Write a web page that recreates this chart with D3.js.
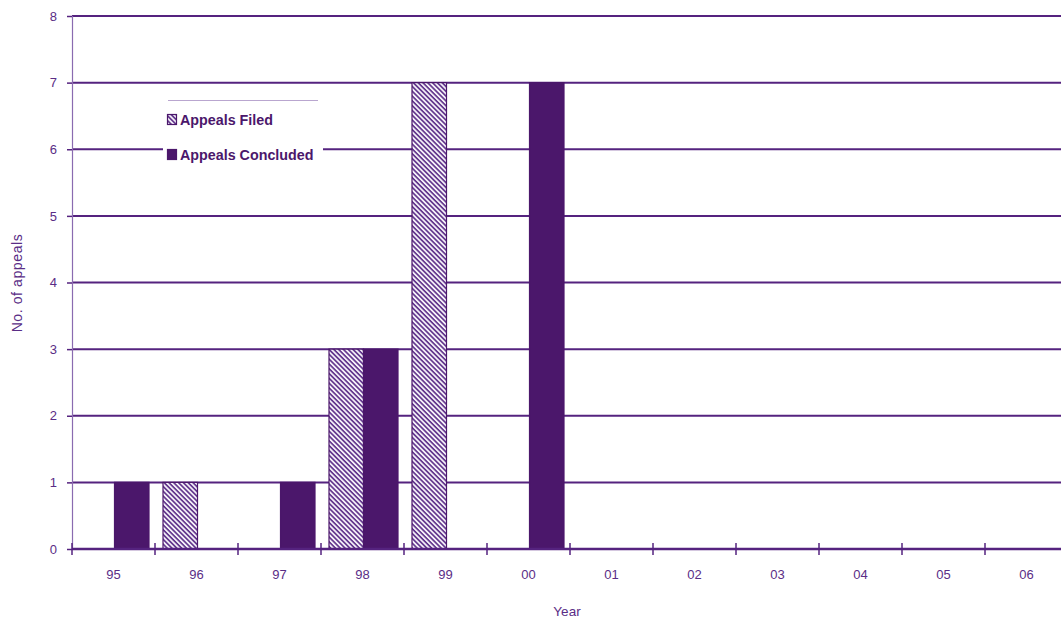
<!DOCTYPE html>
<html><head><meta charset="utf-8">
<script src="https://cdn.jsdelivr.net/npm/d3@7"></script>
<style>body{margin:0;background:#fff}svg{display:block;font-family:"Liberation Sans",Arial,sans-serif}</style>
</head><body><svg id="c" width="1061" height="621"></svg>
<script>
const years = ["95","96","97","98","99","00","01","02","03","04","05","06"];
const appealsFiled =     [0,1,0,3,7,0,0,0,0,0,0,0];
const appealsConcluded = [1,0,1,3,0,7,0,0,0,0,0,0];
const yTicks = [0,1,2,3,4,5,6,7,8];
const seriesNames = ["Appeals Filed","Appeals Concluded"];

const purple = "#4b176b", grid = "#55237f", text = "#5a2d86";
const svg = d3.select("#c");
const defs = svg.append("defs");
const pat = defs.append("pattern").attr("id","hatch").attr("patternUnits","userSpaceOnUse")
  .attr("width",3.4).attr("height",3.4).attr("patternTransform","rotate(45)");
pat.append("rect").attr("width",3.4).attr("height",3.4).attr("fill","#f4f0f8");
pat.append("rect").attr("width",3.4).attr("height",1.6).attr("fill","#5e3089");

const x = d3.scaleBand().domain(years).range([72,1068]).paddingInner(0).paddingOuter(0);
const xs = d3.scaleBand().domain([0,1]).range([8,77]).paddingInner(0).paddingOuter(0);
const y = d3.scaleLinear().domain([0,8]).range([549,16]);

// gridlines
svg.append("g").selectAll("line").data(yTicks.filter(d=>d>0)).join("line")
  .attr("x1",72).attr("x2",1061).attr("y1",d=>y(d)).attr("y2",d=>y(d))
  .attr("stroke",grid).attr("stroke-width",2);

// legend box (behind bars, above gridlines)
const lg = svg.append("g");
lg.append("rect").attr("x",163).attr("y",100).attr("width",160).attr("height",68).attr("fill","#fff");
lg.append("line").attr("x1",168).attr("x2",318).attr("y1",100.5).attr("y2",100.5).attr("stroke","#b9a6cf").attr("stroke-width",1);
seriesNames.forEach((n,i)=>{
  const yy = i===0 ? 114 : 149;
  lg.append("rect").attr("x",167.5).attr("y",yy+0.5).attr("width",9).attr("height",10)
    .attr("fill", i===0 ? "url(#hatch)" : purple).attr("stroke",purple).attr("stroke-width",1.2);
  lg.append("text").attr("x",180).attr("y",yy+10.5).text(n)
    .attr("fill",purple).attr("font-size",14.3).attr("font-weight","bold");
});

// bars
const data = years.map((yr,i)=>({yr, vals:[appealsFiled[i], appealsConcluded[i]]}));
const bg = svg.append("g");
data.forEach(d=>{
  d.vals.forEach((v,k)=>{
    if(v<=0) return;
    bg.append("rect").attr("x",x(d.yr)+xs(k)).attr("y",y(v)).attr("width",xs.bandwidth()).attr("height",y(0)-y(v))
      .attr("fill", k===0 ? "url(#hatch)" : purple).attr("stroke",purple).attr("stroke-width",1.2);
  });
});

// y axis
const ya = svg.append("g").attr("transform","translate(72,0)")
  .call(d3.axisLeft(y).tickValues(yTicks).tickSize(5).tickPadding(10).tickFormat(d3.format("d")));
ya.select(".domain").attr("stroke","#8a6bb0").attr("stroke-width",1.2);
ya.selectAll(".tick line").attr("stroke",grid).attr("stroke-width",1.5);
ya.selectAll(".tick text").attr("fill",text).attr("font-size",13).attr("font-family","Liberation Sans, Arial, sans-serif");

// x axis
const xa = svg.append("g").attr("transform","translate(0,549)")
  .call(d3.axisBottom(x).tickSize(0).tickPadding(21));
xa.select(".domain").remove();
xa.append("line").attr("x1",72).attr("x2",1061).attr("y1",0).attr("y2",0).attr("stroke",grid).attr("stroke-width",2.5);
xa.selectAll(".tick text").attr("fill",text).attr("font-size",13).attr("font-family","Liberation Sans, Arial, sans-serif");
xa.append("g").selectAll("line").data(years).join("line")
  .attr("x1",d=>x(d)).attr("x2",d=>x(d)).attr("y1",-6).attr("y2",6).attr("stroke",grid).attr("stroke-width",1.5);

// titles
svg.append("text").attr("x",567).attr("y",616).attr("text-anchor","middle").text("Year")
  .attr("fill",text).attr("font-size",13.5);
svg.append("text").attr("transform","translate(22,283) rotate(-90)").attr("text-anchor","middle").text("No. of appeals")
  .attr("fill",text).attr("font-size",14).attr("letter-spacing",0.6);
</script></body></html>
